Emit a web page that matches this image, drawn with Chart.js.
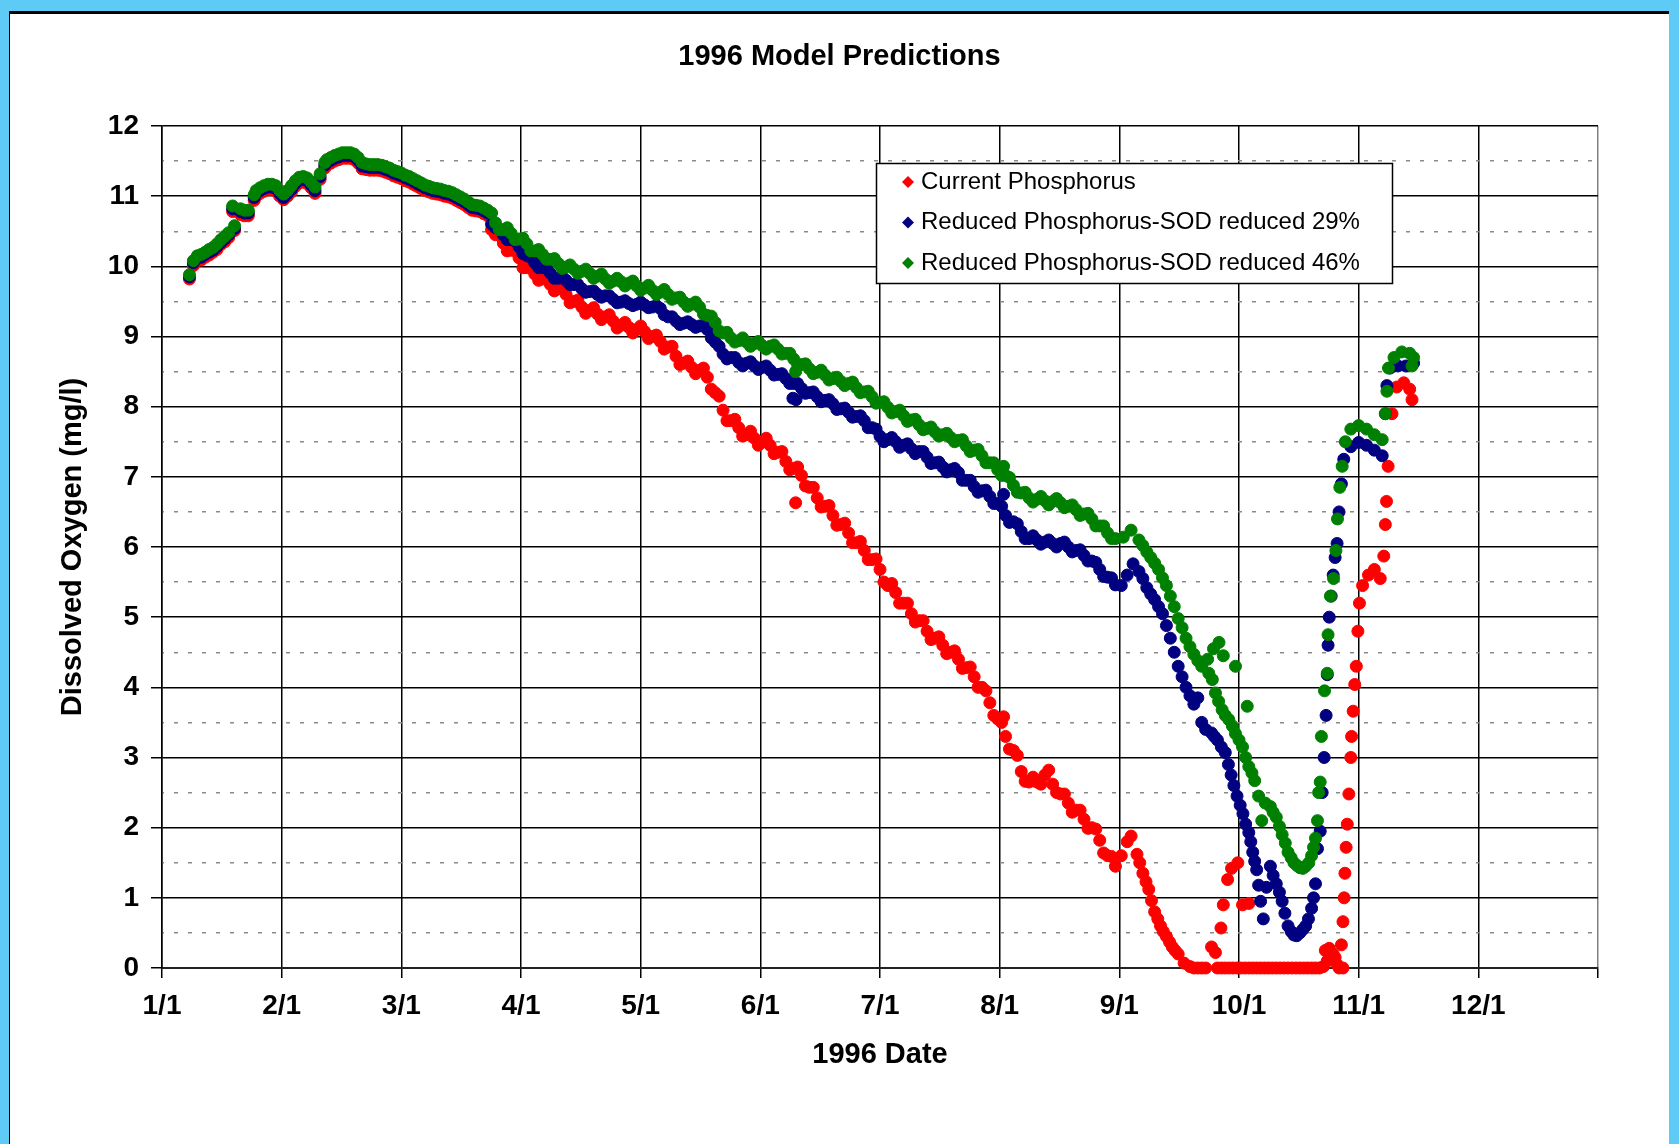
<!DOCTYPE html>
<html>
<head>
<meta charset="utf-8">
<title>1996 Model Predictions</title>
<script src="https://cdn.jsdelivr.net/npm/chart.js@4.4.1/dist/chart.umd.min.js"></script>
<style>
  html, body { margin: 0; padding: 0; width: 1679px; height: 1144px; overflow: hidden; background: #5ecbf6; }
  #frame { position: absolute; left: 9px; top: 11px; width: 1660px; height: 1133px; background: #fff;
           border-top: 3px solid #000; border-left: 1px solid #000; box-sizing: border-box; }
  #doChart { display: block; }
</style>
</head>
<body>
<div id="frame"><canvas id="doChart" width="1659" height="1130"></canvas></div>
<script>
// x axis tick labels, one every 30.5 days starting 1/1 (day 0)
const monthLabels = ['1/1', '2/1', '3/1', '4/1', '5/1', '6/1', '7/1', '8/1', '9/1', '10/1', '11/1', '12/1', ''];

const seriesNames = ['Current Phosphorus', 'Reduced Phosphorus-SOD reduced 29%', 'Reduced Phosphorus-SOD reduced 46%'];

// [day of 1996 (1/1 = 0), dissolved oxygen mg/l]
const currentPoints = [
  [7,9.82],[8,10.01],[9,10.08],[11,10.13],[13,10.2],[15,10.31],[17,10.41],[18.5,10.51],[18,10.78],[20,10.74],
  [22,10.72],[23.5,10.94],[25,11.04],[27,11.09],[29,11.07],[31,10.95],[33,11.06],[35,11.19],[37,11.18],[39,11.04],
  [40.3,11.24],[41.5,11.4],[43,11.47],[45,11.52],[47,11.54],[49,11.52],[51,11.39],[53,11.37],[55,11.37],[57,11.34],
  [59,11.29],[61,11.25],[63,11.2],[65,11.14],[67,11.08],[69,11.04],[71,11.02],[73,10.99],[75,10.94],[77,10.88],
  [79,10.8],[81,10.78],[83,10.72],[85,10.45],[87,10.33],[89,10.23],[91,10.12],[93,9.98],[95,9.89],[97,9.82],
  [99,9.74],[101,9.68],[103,9.6],[105,9.5],[107,9.42],[109,9.37],[111,9.32],[113,9.28],[115,9.22],[117,9.16],
  [119,9.13],[121,9.1],[123,9.07],[125,9.0],[127,8.93],[129,8.85],[131,8.72],[133,8.62],[135,8.56],[137,8.52],
  [139,8.42],[141,8.2],[143,7.95],[145,7.8],[147,7.7],[149,7.6],[151,7.55],[153,7.5],[155,7.45],[157,7.35],
  [159,7.22],[161,7.12],[161.5,6.63],[163,7.02],[165,6.85],[167,6.7],[169,6.58],[171,6.45],[173,6.32],[175,6.2],
  [177,6.06],[179,5.95],[181,5.82],[183,5.68],[185,5.45],[187,5.35],[189,5.2],[191,5.05],[193,4.95],[195,4.8],
  [197,4.7],[199,4.6],[201,4.5],[203,4.4],[205,4.28],[207,4.15],[209,4.0],[211,3.78],[213,3.55],[214.5,3.58],
  [215,3.3],[217,3.1],[219,2.8],[221,2.65],[223,2.65],[225,2.75],[226,2.82],[227,2.62],[229,2.48],[231,2.35],
  [233,2.25],[235,2.12],[237,2.0],[239,1.82],[241,1.6],[243,1.45],[244.5,1.6],[246,1.8],[247,1.88],[248.5,1.62],
  [250,1.35],[251.5,1.12],[253,0.8],[254.5,0.6],[256,0.45],[257.5,0.3],[259,0.2],[260.5,0.07],[262,0.02],[264,0],
  [249.2,1.5],[250.8,1.23],[252.2,0.96],[253.8,0.7],[255.2,0.52],[256.8,0.37],[258.2,0.25],
  [266,0],[267.5,0.3],[268.5,0.22],[270,0],[272,0],[274,0],[276,0],[278,0],[280,0],[282,0],
  [284,0],[286,0],[288,0],[290,0],[292,0],[294,0],[296,0.02],[296.5,0.25],[297.5,0.28],[298.5,0.2],
  [263,0],[265,0],[269,0],[271,0],[273,0],[275,0],[277,0],[279,0],[281,0],[283,0],
  [285,0],[287,0],[289,0],[291,0],[293,0],[295,0],[297,0.1],[299,0.15],[300,0],
  [299.5,0.05],[301,0],[269.9,0.57],[270.5,0.9],[271.6,1.26],[272.6,1.42],[274.2,1.5],[275.4,0.9],[277,0.92],
  [300.6,0.33],[301,0.66],[301.3,1.0],[301.5,1.35],[301.8,1.72],[302.1,2.05],[302.5,2.48],[303,3.0],[303.2,3.3],
  [303.6,3.66],[304,4.04],[304.4,4.3],[304.8,4.8],[305.2,5.2],[306,5.45],[307.5,5.6],[309,5.68],[310.5,5.55],
  [311.4,5.87],[311.8,6.32],[312.1,6.65],[312.5,7.15],[313.5,7.9],[314.7,8.28],[316.5,8.34],[318,8.25],[318.6,8.1],
  // in-between days, upper and lower edge of the band
  [10,10.09],[12,10.16],[14,10.24],[16,10.35],[21,10.72],[24,11.0],[26,11.07],[28,11.09],[30,11.0],[32,11.0],
  [34,11.14],[36,11.2],[38,11.12],[42,11.44],[44,11.5],[46,11.54],[48,11.54],[50,11.47],[52,11.38],[54,11.37],
  [56,11.36],[58,11.32],[60,11.27],[62,11.22],[64,11.17],[66,11.11],[68,11.06],[70,11.03],[72,11.0],[74,10.97],
  [76,10.91],[78,10.84],[80,10.79],[82,10.75],
  [84,10.52],[86,10.44],[88,10.22],[90,10.22],[92,9.98],[94,9.99],[96,9.8],[98,9.83],[100,9.65],[102,9.7],
  [104,9.48],[106,9.52],[108,9.33],[110,9.41],[112,9.24],[114,9.31],[116,9.12],[118,9.2],[120,9.05],[122,9.15],
  [124,8.97],[126,9.02],[128,8.82],[130,8.86],[132,8.6],[134,8.65],[136,8.47],[138,8.55],[140,8.25],[142,8.15],
  [144,7.8],[146,7.82],[148,7.58],[150,7.65],[152,7.45],[154,7.55],[156,7.33],[158,7.36],[160,7.1],[162,7.14],
  [164,6.87],[166,6.85],[168,6.57],[170,6.59],[172,6.31],[174,6.34],[176,6.06],[178,6.08],[180,5.82],[182,5.83],
  [184,5.5],[186,5.48],[188,5.2],[190,5.2],[192,4.93],[194,4.95],[196,4.68],[198,4.72],[200,4.48],[202,4.52],
  [204,4.27],[206,4.29],[208,4.0],[210,3.95],[212,3.6],[214,3.5],[216,3.12],[218,3.03],[220,2.66],[222,2.72],
  [224,2.62],[228,2.5],[230,2.48],[232,2.22],[234,2.25],[236,1.99],[238,1.98],[240,1.64],[242,1.59]
];

const sod29Points = [
  [7,9.85],[8,10.05],[9,10.12],[11,10.17],[13,10.23],[15,10.34],[17,10.45],[18.5,10.54],[18,10.82],[20,10.78],
  [22,10.76],[23.5,10.98],[25,11.08],[27,11.13],[29,11.11],[31,10.98],[33,11.1],[35,11.23],[37,11.22],[39,11.08],
  [40.3,11.28],[41.5,11.44],[43,11.51],[45,11.56],[47,11.58],[49,11.56],[51,11.43],[53,11.41],[55,11.41],[57,11.38],
  [59,11.33],[61,11.29],[63,11.24],[65,11.18],[67,11.12],[69,11.08],[71,11.06],[73,11.03],[75,10.98],[77,10.92],
  [79,10.84],[81,10.82],[83,10.76],[85,10.55],[87,10.45],[89,10.38],[91,10.28],[93,10.15],[95,10.05],[97,9.98],
  [99,9.9],[101,9.83],[103,9.8],[105,9.74],[107,9.68],[109,9.64],[111,9.6],[113,9.58],[115,9.53],[117,9.49],
  [119,9.47],[121,9.46],[123,9.45],[125,9.42],[127,9.4],[129,9.28],[131,9.22],[133,9.19],[135,9.17],[137,9.15],
  [139,9.1],[141,8.92],[143,8.75],[145,8.7],[147,8.63],[149,8.62],[151,8.58],[153,8.56],[155,8.52],[157,8.46],
  [159,8.4],[161,8.33],[160.8,8.12],[161.6,8.1],[163,8.26],[165,8.2],[167,8.14],[169,8.09],[171,8.04],[173,7.97],
  [175,7.92],[177,7.86],[179,7.8],[181,7.7],[183,7.58],[185,7.53],[187,7.5],[189,7.45],[191,7.4],[193,7.36],
  [195,7.28],[197,7.2],[199,7.14],[201,7.1],[203,7.06],[205,6.95],[207,6.86],[209,6.8],[211,6.72],[213,6.62],
  [214.5,6.75],[215,6.45],[217,6.36],[219,6.22],[221,6.12],[223,6.1],[225,6.07],[227,6.05],[229,6.05],[231,6.0],
  [233,5.95],[235,5.88],[237,5.8],[239,5.68],[241,5.57],[243,5.46],[244.5,5.45],[246,5.6],[247.5,5.76],[249,5.65],
  [251,5.42],[253,5.25],[255,5.05],[257,4.7],[259,4.3],[261,4.0],[263,3.76],[264,3.85],[265,3.5],[266,3.4],
  [250,5.55],[252,5.33],[254,5.15],[256,4.88],[258,4.5],[260,4.15],[262,3.88],
  [267.5,3.35],[269,3.25],[271,3.07],[272.5,2.75],[274,2.45],[275.5,2.2],[277,1.93],[278,1.65],[279,1.4],[280,0.95],
  [268.2,3.3],[270,3.15],[271.8,2.9],[273.2,2.6],[274.8,2.32],[276.2,2.05],[277.5,1.8],[278.5,1.52],[279.5,1.18],
  [280.7,0.7],[281.5,1.15],[282.5,1.45],[284,1.2],[285.5,0.95],[287,0.6],[288.5,0.47],[290,0.5],[291.5,0.6],[293,0.85],
  [283.2,1.32],[284.8,1.08],[286.2,0.78],[287.8,0.52],[289.2,0.46],[290.8,0.55],[292.2,0.7],[293.5,1.0],
  [294,1.2],[294.5,1.7],[295.2,1.95],[295.7,2.5],[296.2,3.0],[296.7,3.6],[297,4.18],[297.2,4.6],[297.5,5.0],[298,5.3],
  [298.5,5.6],[299,5.85],[299.5,6.05],[300,6.5],[300.6,6.9],[301.2,7.25],[303,7.43],[305,7.49],[307,7.45],[309,7.38],
  [311,7.3],[311.8,7.9],[312.2,8.3],[313,8.55],[315,8.58],[317,8.58],[319,8.62],
  // in-between days, upper and lower edge of the band
  [10,10.13],[12,10.2],[14,10.28],[16,10.39],[21,10.76],[24,11.04],[26,11.11],[28,11.13],[30,11.04],[32,11.04],
  [34,11.18],[36,11.24],[38,11.16],[42,11.48],[44,11.54],[46,11.58],[48,11.58],[50,11.51],[52,11.42],[54,11.41],
  [56,11.4],[58,11.36],[60,11.31],[62,11.26],[64,11.21],[66,11.15],[68,11.1],[70,11.07],[72,11.04],[74,11.01],
  [76,10.95],[78,10.88],[80,10.83],[82,10.79],
  [84,10.6],[86,10.53],[88,10.38],[90,10.36],[92,10.18],[94,10.13],[96,9.98],[98,9.97],[100,9.83],[102,9.85],
  [104,9.74],[106,9.74],[108,9.63],[110,9.65],[112,9.56],[114,9.58],[116,9.48],[118,9.51],[120,9.44],[122,9.49],
  [124,9.41],[126,9.44],[128,9.31],[130,9.28],[132,9.17],[134,9.21],[136,9.13],[138,9.16],[140,8.98],[142,8.86],
  [144,8.68],[146,8.7],[148,8.58],[150,8.64],[152,8.53],[154,8.58],[156,8.45],[158,8.47],[160,8.33],[162,8.33],
  [164,8.19],[166,8.21],[168,8.07],[170,8.1],[172,7.96],[174,7.98],[176,7.85],[178,7.87],[180,7.7],[182,7.68],
  [184,7.5],[186,7.56],[188,7.42],[190,7.47],[192,7.33],[194,7.36],[196,7.19],[198,7.21],[200,7.07],[202,7.12],
  [204,6.95],[206,6.95],[208,6.78],[210,6.81],[212,6.62],[214,6.58],[216,6.35],[218,6.33],[220,6.12],[222,6.16],
  [224,6.04],[226,6.1],[228,6.0],[230,6.07],[232,5.93],[234,5.96],[236,5.8],[238,5.78],[240,5.58],[242,5.56]
];

const sod46Points = [
  [7,9.88],[8,10.08],[9,10.15],[11,10.2],[13,10.27],[15,10.38],[17,10.48],[18.5,10.58],[18,10.86],[20,10.82],
  [22,10.8],[23.5,11.02],[25,11.12],[27,11.17],[29,11.15],[31,11.03],[33,11.15],[35,11.27],[37,11.26],[39,11.13],
  [40.3,11.32],[41.5,11.48],[43,11.55],[45,11.6],[47,11.62],[49,11.6],[51,11.48],[53,11.45],[55,11.45],[57,11.42],
  [59,11.37],[61,11.33],[63,11.28],[65,11.22],[67,11.16],[69,11.12],[71,11.1],[73,11.07],[75,11.02],[77,10.96],
  [79,10.88],[81,10.86],[83,10.8],[85,10.62],[87,10.52],[89,10.47],[91,10.39],[93,10.32],[95,10.22],[97,10.17],
  [99,10.1],[101,10.04],[103,9.99],[105,9.96],[107,9.93],[109,9.9],[111,9.86],[113,9.82],[115,9.79],[117,9.78],
  [119,9.76],[121,9.72],[123,9.69],[125,9.66],[127,9.63],[129,9.6],[131,9.55],[133,9.49],[135,9.46],[137,9.42],
  [139,9.3],[141,9.2],[143,9.05],[145,8.98],[147,8.94],[149,8.92],[151,8.9],[153,8.87],[155,8.86],[157,8.82],
  [159,8.76],[161,8.68],[161.5,8.5],[163,8.6],[165,8.54],[167,8.49],[169,8.45],[171,8.4],[173,8.36],[175,8.33],
  [177,8.27],[179,8.21],[181,8.14],[183,8.06],[185,7.99],[187,7.93],[189,7.87],[191,7.81],[193,7.74],[195,7.69],
  [197,7.64],[199,7.6],[201,7.56],[203,7.52],[205,7.44],[207,7.38],[209,7.3],[211,7.2],[213,7.1],[214.5,7.15],
  [215,7.02],[217,6.88],[219,6.77],[221,6.7],[223,6.68],[225,6.66],[227,6.65],[229,6.63],[231,6.58],[233,6.53],
  [235,6.47],[237,6.4],[239,6.3],[241,6.2],[243,6.12],[245,6.14],[247,6.24],[249,6.1],[251,5.93],[253,5.77],
  [255,5.56],[257,5.3],[259,4.98],[261,4.7],[263,4.47],[265,4.3],[266.5,4.4],[268,4.55],[269.4,4.64],[270.5,4.45],
  [250,6.02],[252,5.85],[254,5.68],[256,5.45],[258,5.15],[260,4.85],[262,4.58],[264,4.38],
  [273.6,4.3],[276.6,3.73],[267.7,4.11],[268.5,3.92],[270.2,3.68],[271.9,3.54],[273.6,3.34],[275.4,3.15],[277,2.87],[278.5,2.67],
  [266.8,4.2],[269.3,3.8],[271,3.6],[272.8,3.45],[274.5,3.25],[276.2,3.0],[277.8,2.78],
  [279.5,2.45],[280.3,2.1],[281.2,2.35],[282.5,2.3],[284,2.15],[285.5,1.9],[287,1.65],[288.5,1.5],[290,1.43],[291.5,1.45],
  [283.2,2.22],[284.8,2.02],[286.3,1.78],[287.8,1.57],[289.3,1.46],[290.8,1.42],[292.3,1.5],[293.5,1.72],
  [293,1.6],[294,1.85],[294.5,2.1],[294.8,2.5],[295.2,2.65],[295.5,3.3],[296.3,3.95],[297,4.2],[297.2,4.75],[297.8,5.3],
  [298.6,5.55],[299.2,5.95],[299.6,6.4],[300.2,6.85],[300.8,7.15],[301.6,7.5],[303,7.68],[305,7.73],[307,7.68],[309,7.6],
  [311,7.53],[311.8,7.9],[312.2,8.22],[312.6,8.55],[314,8.7],[316,8.78],[318,8.76],[319,8.7],[318.6,8.58],
  // in-between days, upper and lower edge of the band
  [10,10.17],[12,10.24],[14,10.32],[16,10.43],[21,10.8],[24,11.08],[26,11.15],[28,11.17],[30,11.08],[32,11.08],
  [34,11.22],[36,11.28],[38,11.2],[42,11.52],[44,11.58],[46,11.62],[48,11.62],[50,11.55],[52,11.46],[54,11.45],
  [56,11.44],[58,11.4],[60,11.35],[62,11.3],[64,11.25],[66,11.19],[68,11.14],[70,11.11],[72,11.08],[74,11.05],
  [76,10.99],[78,10.92],[80,10.87],[82,10.83],
  [84,10.76],[86,10.52],[88,10.55],[90,10.38],[92,10.4],[94,10.22],[96,10.24],[98,10.1],[100,10.11],[102,9.97],
  [104,10.02],[106,9.9],[108,9.96],[110,9.83],[112,9.89],[114,9.76],[116,9.83],[118,9.72],[120,9.79],[122,9.66],
  [124,9.73],[126,9.6],[128,9.67],[130,9.53],[132,9.56],[134,9.43],[136,9.49],[138,9.32],[140,9.29],[142,9.08],
  [144,9.06],[146,8.92],[148,8.98],[150,8.86],[152,8.93],[154,8.82],[156,8.88],[158,8.75],[160,8.76],[162,8.6],
  [164,8.61],[166,8.47],[168,8.52],[170,8.38],[172,8.42],[174,8.3],[176,8.35],[178,8.2],[180,8.22],[182,8.05],
  [184,8.07],[186,7.91],[188,7.95],[190,7.79],[192,7.82],[194,7.67],[196,7.71],[198,7.58],[200,7.62],[202,7.5],
  [204,7.53],[206,7.36],[208,7.39],[210,7.2],[212,7.2],[214,7.02],[216,6.99],[218,6.78],[220,6.78],[222,6.64],
  [224,6.72],[226,6.6],[228,6.69],[230,6.56],[232,6.6],[234,6.45],[236,6.48],[238,6.3],[240,6.3],[242,6.12]
];

const seriesColors = ['#ff0000', '#000080', '#008000'];

function toXY(points) {
  return points.map(p => ({ x: p[0], y: p[1] }));
}

// Excel style legend box sitting inside the plot area
const boxLegend = {
  id: 'boxLegend',
  afterDraw(chart) {
    const ctx = chart.ctx;
    ctx.save();
    ctx.fillStyle = '#fff';
    ctx.fillRect(866, 149, 516, 120);
    ctx.strokeStyle = '#000';
    ctx.lineWidth = 1.5;
    ctx.strokeRect(866.5, 149.5, 516, 120);
    ctx.font = '24px "Liberation Sans", Arial, sans-serif';
    ctx.textBaseline = 'middle';
    ctx.textAlign = 'left';
    chart.data.datasets.forEach((ds, i) => {
      const y = 168 + i * 40.5;
      ctx.fillStyle = ds.backgroundColor;
      ctx.beginPath();
      ctx.moveTo(898, y - 6);
      ctx.lineTo(904, y);
      ctx.lineTo(898, y + 6);
      ctx.lineTo(892, y);
      ctx.closePath();
      ctx.fill();
      ctx.fillStyle = '#000';
      ctx.fillText(ds.label, 911, y);
    });
    ctx.restore();
  }
};

Chart.defaults.font.family = '"Liberation Sans", Arial, sans-serif';
Chart.defaults.color = '#000';

const pointSets = [currentPoints, sod29Points, sod46Points];

new Chart(document.getElementById('doChart'), {
  type: 'scatter',
  data: {
    datasets: pointSets.map((pts, i) => ({
      label: seriesNames[i],
      data: toXY(pts),
      backgroundColor: seriesColors[i],
      borderColor: seriesColors[i],
      pointRadius: 6,
      pointBorderWidth: 1,
      pointHoverRadius: 6,
      order: 3 - i,      // green on top, red underneath
      clip: false
    }))
  },
  options: {
    responsive: false,
    animation: false,
    events: [],
    layout: { padding: 0 },
    plugins: {
      legend: { display: false },
      tooltip: { enabled: false },
      title: {
        display: true,
        text: '1996 Model Predictions',
        color: '#000',
        font: { size: 29, weight: 'bold' },
        padding: { top: 25.6, bottom: 51.6 }
      }
    },
    scales: {
      x: {
        type: 'linear',
        min: 0,
        max: 366,
        afterBuildTicks: s => { s.ticks = monthLabels.map((_, i) => ({ value: i * 30.5 })); },
        afterFit: s => { s.height = 176; },
        ticks: {
          autoSkip: false,
          maxRotation: 0,
          padding: 11,
          color: '#000',
          font: { size: 28, weight: 'bold' },
          callback: (v, i) => monthLabels[i]
        },
        grid: {
          color: c => c.index === monthLabels.length - 1 ? '#808080' : '#000',
          tickColor: '#000',
          lineWidth: 1.5,
          tickLength: 10
        },
        border: { color: '#222', width: 2 },
        title: {
          display: true,
          text: '1996 Date',
          color: '#000',
          font: { size: 29, weight: 'bold' },
          padding: { top: 0, bottom: 71.6 }
        }
      },
      y: {
        type: 'linear',
        position: 'left',
        min: 0,
        max: 12,
        afterFit: s => { s.width = 152; },
        ticks: { stepSize: 1, padding: 12, color: '#000', font: { size: 28, weight: 'bold' } },
        grid: { color: '#000', lineWidth: 1.5, tickLength: 11 },
        border: { color: '#000', width: 1.5 },
        title: {
          display: true,
          text: 'Dissolved Oxygen (mg/l)',
          color: '#000',
          font: { size: 29, weight: 'bold' },
          padding: { top: 45.6, bottom: 0 }
        }
      },
      yMinor: {
        type: 'linear',
        position: 'left',
        min: 0,
        max: 12,
        afterFit: s => { s.width = 0; },
        ticks: { stepSize: 0.5, display: false },
        grid: {
          color: c => (c.tick && c.tick.value % 1 !== 0) ? '#8a8a8a' : 'rgba(0,0,0,0)',
          lineWidth: 1.5,
          drawTicks: false
        },
        border: { display: false, dash: [4, 10], dashOffset: -12 }
      },
      yRight: {
        position: 'right',
        afterFit: s => { s.width = 71; },
        ticks: { display: false },
        grid: { display: false },
        border: { display: false }
      }
    }
  },
  plugins: [boxLegend]
});
</script>
</body>
</html>
